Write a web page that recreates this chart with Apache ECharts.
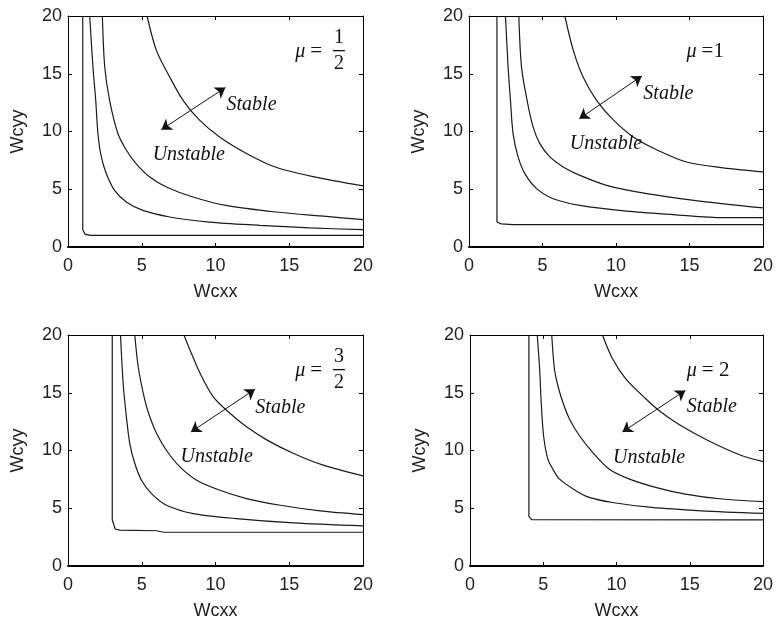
<!DOCTYPE html>
<html>
<head>
<meta charset="utf-8">
<script src="https://cdn.jsdelivr.net/npm/echarts@6/dist/echarts.min.js"></script>
<style>
  html, body { margin: 0; padding: 0; background: #fff; }
  #chart { width: 779px; height: 627px; }
</style>
</head>
<body>
<div id="chart"></div>
<script>
// tick labels shared by all four panels
const ticks = [0, 5, 10, 15, 20]

// mu = 1/2
const p1a = [[1.0, 20], [1.0, 1.5], [1.15, 1.12], [1.5, 1.0], [20, 1.0]]
const p1b = [[1.47, 20], [1.69, 15.6], [1.88, 12.7], [2.03, 9.8], [2.26, 7.8], [2.6, 6.35], [3.16, 4.9], [3.95, 3.9], [5.08, 3.17], [6.9, 2.6], [9.6, 2.16], [13, 1.88], [16.4, 1.65], [20, 1.5]]
const p1c = [[2.33, 20], [2.49, 15.6], [2.82, 12.7], [3.39, 9.8], [3.95, 8.4], [4.63, 7.2], [5.54, 6.06], [6.67, 5.2], [8.47, 4.33], [10.7, 3.6], [14.1, 3.03], [17.5, 2.65], [20, 2.37]]
const p1d = [[5.36, 20], [6.0, 17.0], [6.9, 14.7], [7.8, 12.7], [8.9, 11.0], [10.3, 9.5], [12.1, 8.1], [14.1, 6.9], [16.6, 6.1], [20, 5.3]]

// mu = 1
const p2a = [[1.9, 20], [1.9, 2.16], [2.2, 2.0], [3, 1.93], [20, 1.93]]
const p2b = [[2.48, 20], [2.66, 15.6], [2.82, 12.7], [3.0, 9.8], [3.34, 7.8], [3.8, 6.35], [4.6, 5.05], [5.73, 4.18], [7.55, 3.6], [10.7, 3.1], [13.9, 2.8], [17.3, 2.54], [20, 2.54]]
const p2c = [[3.39, 20], [3.57, 15.6], [3.95, 12.7], [4.36, 10.4], [4.82, 8.95], [5.5, 7.8], [6.4, 6.93], [7.55, 6.2], [9.36, 5.34], [12.1, 4.62], [15.3, 4.04], [20, 3.38]]
const p2d = [[6.52, 20], [7.1, 17.0], [7.77, 14.7], [8.68, 12.7], [9.82, 11.0], [11.2, 9.5], [12.8, 8.4], [14.8, 7.36], [17.3, 6.85], [20, 6.5]]

// mu = 3/2
const p3a = [[3.0, 20], [3.0, 4.0], [3.2, 3.2], [3.5, 3.1], [6.0, 3.05], [6.5, 2.92], [20, 2.92]]
const p3b = [[3.56, 20], [3.74, 15.8], [3.96, 12.9], [4.19, 10.6], [4.53, 8.87], [4.98, 7.43], [5.66, 6.27], [6.68, 5.26], [8.49, 4.54], [11.4, 4.1], [15.3, 3.73], [20, 3.47]]
const p3c = [[4.53, 20], [4.76, 17.25], [5.2, 14.4], [5.55, 12.9], [6.0, 11.5], [6.68, 10.0], [7.59, 8.58], [8.72, 7.43], [10.3, 6.56], [12.1, 5.84], [14.4, 5.26], [17.1, 4.77], [20, 4.45]]
const p3d = [[7.86, 20], [8.27, 18.7], [8.95, 16.7], [9.85, 14.65], [11.0, 13.2], [12.1, 12.05], [13.5, 10.9], [15.3, 9.74], [17.3, 8.73], [20, 7.8]]

// mu = 2
const p4a = [[4.02, 20], [4.02, 4.3], [4.2, 4.02], [20, 4.0]]
const p4b = [[4.59, 20], [4.75, 17.1], [4.86, 14.2], [5.02, 11.3], [5.31, 9.28], [5.65, 8.4], [6.1, 7.54], [7.23, 6.52], [8.14, 5.94], [9.72, 5.5], [12.4, 5.07], [15.8, 4.78], [20, 4.55]]
const p4c = [[5.58, 20], [5.76, 17.1], [5.99, 15.65], [6.33, 14.2], [6.78, 12.75], [7.46, 11.3], [8.36, 9.86], [9.49, 8.4], [10.85, 7.54], [12.66, 6.81], [14.7, 6.23], [17.2, 5.8], [20, 5.57]]
const p4d = [[9.04, 20], [9.72, 17.97], [10.62, 16.23], [11.98, 14.5], [12.88, 13.48], [14.0, 12.46], [15.37, 11.45], [16.95, 10.43], [18.53, 9.57], [20, 9.04]]

const curves = [
  [p1a, p1b, p1c, p1d],
  [p2a, p2b, p2c, p2d],
  [p3a, p3b, p3c, p3d],
  [p4a, p4b, p4c, p4d]
]

const grids = [
  {left: 68, top: 16, width: 295, height: 231},
  {left: 469, top: 16, width: 294, height: 231},
  {left: 68, top: 335, width: 295, height: 231},
  {left: 470, top: 335, width: 293, height: 231}
]

// annotation anchors (data units) : stable text, unstable text, arrow ends
const notes = [
  {stable: [10.75, 12.3], unstable: [5.74, 7.97], arrow: [[6.33, 10.16], [10.67, 13.8]]},
  {stable: [11.86, 13.3], unstable: [6.86, 8.9], arrow: [[7.5, 11.1], [11.75, 14.8]]},
  {stable: [12.7, 13.7], unstable: [7.63, 9.45], arrow: [[8.33, 11.6], [12.68, 15.3]]},
  {stable: [14.8, 13.77], unstable: [9.76, 9.33], arrow: [[10.4, 11.6], [14.7, 15.2]]}
]

const serif = 'Liberation Serif'
const sans = 'Liberation Sans'

function textPoint (coord, formatter, position) {
  return {
    coord: coord,
    symbol: 'circle',
    symbolSize: 0,
    label: {
      show: true,
      position: position || 'right',
      distance: 0,
      align: 'left',
      formatter: formatter,
      fontFamily: serif,
      fontSize: 20,
      color: '#111',
      rich: {
        m: {fontFamily: serif, fontStyle: 'italic', fontSize: 20, color: '#111'},
        e: {fontFamily: serif, fontSize: 21, color: '#111'}
      }
    }
  }
}

// "1 over 2" style fraction: digits stacked with a drawn bar between them
function fraction (coord, num, den) {
  return {
    coord: coord,
    symbol: 'circle',
    symbolSize: 0,
    label: {
      show: true,
      position: 'inside',
      formatter: '{n|' + num + '}\n{b|}\n{n|' + den + '}',
      rich: {
        n: {fontFamily: serif, fontSize: 20, lineHeight: 17, color: '#111', align: 'center'},
        b: {width: 12, height: 1.3, lineHeight: 9, backgroundColor: '#111', align: 'center'}
      }
    }
  }
}

function muPoints (i) {
  if (i === 0 || i === 2) {
    return [
      textPoint([15.4, 16.9], '{m|μ} {e|=}'),
      fraction([18.37, 17.0], i === 0 ? '1' : '3', '2')
    ]
  }
  return [textPoint([14.8, 16.9], i === 1 ? '{m|μ} {e|=1}' : '{m|μ} {e|= 2}')]
}

const xAxis = []
const yAxis = []
const series = []

grids.forEach(function (g, i) {
  const base = {
    type: 'value', gridIndex: i, min: 0, max: 20, interval: 5,
    splitLine: {show: false},
    axisTick: {show: true, inside: true, length: 4, lineStyle: {color: '#000'}}
  }
  xAxis.push(Object.assign({}, base, {
    position: 'bottom',
    name: 'Wcxx', nameLocation: 'middle', nameGap: 36,
    nameTextStyle: {fontFamily: sans, fontSize: 18, color: '#222'},
    axisLine: {show: true, onZero: false, lineStyle: {color: '#000', width: 2}},
    axisLabel: {margin: 10, fontFamily: sans, fontSize: 18, color: '#222',
      formatter: function (v) { return ticks.indexOf(v) >= 0 ? String(v) : '' }}
  }))
  xAxis.push(Object.assign({}, base, {
    position: 'top',
    axisLine: {show: true, onZero: false, lineStyle: {color: '#000', width: 1}},
    axisLabel: {show: false}
  }))
  yAxis.push(Object.assign({}, base, {
    position: 'left',
    name: 'Wcyy', nameLocation: 'middle', nameGap: 41,
    nameTextStyle: {fontFamily: sans, fontSize: 18, color: '#222'},
    axisLine: {show: true, onZero: false, lineStyle: {color: '#000', width: 1}},
    axisLabel: {margin: 6, fontFamily: sans, fontSize: 18, color: '#222',
      formatter: function (v) { return ticks.indexOf(v) >= 0 ? String(v) : '' }}
  }))
  yAxis.push(Object.assign({}, base, {
    position: 'right',
    axisLine: {show: true, onZero: false, lineStyle: {color: '#000', width: 1}},
    axisLabel: {show: false}
  }))

  const n = notes[i]

  curves[i].forEach(function (c, k) {
    const s = {
      type: 'line',
      xAxisIndex: i * 2,
      yAxisIndex: i * 2,
      data: c,
      showSymbol: false,
      smooth: k === 0 ? false : 0.3,
      lineStyle: {color: '#1a1a1a', width: 1.2},
      silent: true
    }
    if (k === 3) {
      s.markPoint = {
        silent: true,
        data: muPoints(i).concat([
          textPoint(n.stable, '{m|Stable}'),
          textPoint(n.unstable, '{m|Unstable}')
        ])
      }
      s.markLine = {
        silent: true,
        label: {show: false},
        symbol: ['arrow', 'arrow'],
        symbolSize: 10,
        lineStyle: {color: '#111', width: 1, type: 'solid'},
        data: [[{coord: n.arrow[0]}, {coord: n.arrow[1]}]]
      }
    }
    series.push(s)
  })
})

const myChart = echarts.init(document.getElementById('chart'))
myChart.setOption({
  animation: false,
  backgroundColor: '#fff',
  grid: grids,
  xAxis: xAxis,
  yAxis: yAxis,
  series: series
})
</script>
</body>
</html>
